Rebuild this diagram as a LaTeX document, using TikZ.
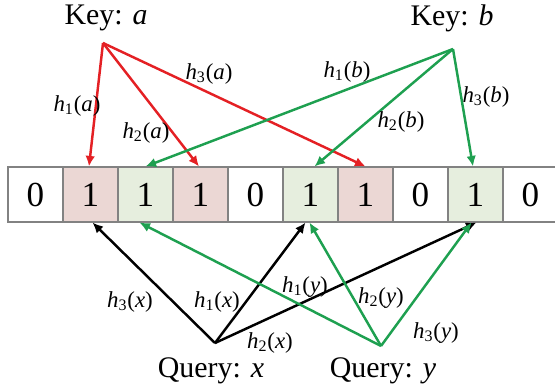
\documentclass[tikz,border=0pt]{standalone}
\usepackage{fontspec}
\setmainfont{Liberation Serif}
\usetikzlibrary{arrows.meta}
\definecolor{redline}{RGB}{228,32,36}
\definecolor{greenline}{RGB}{30,160,80}
\definecolor{redfill}{RGB}{235,215,212}
\definecolor{greenfill}{RGB}{230,238,222}
\definecolor{cellgray}{RGB}{130,130,130}
\newcommand{\hf}[2]{\textit{h}\textsubscript{#1}(\textit{#2})}
\tikzset{
  cell/.style={draw=cellgray, line width=0.6pt, minimum width=1.1cm, minimum height=1.1cm,
    inner sep=0pt, font=\fontsize{20}{22}\selectfont},
  rcell/.style={cell, fill=redfill},
  gcell/.style={cell, fill=greenfill},
  title/.style={font=\fontsize{17}{20}\selectfont},
  hlabel/.style={font=\fontsize{13}{15}\selectfont, inner sep=1pt},
  hashred/.style={draw=redline, line width=1.4pt, -{Latex[length=6pt,width=5.5pt]}},
  hashgreen/.style={draw=greenline, line width=1.4pt, -{Latex[length=6pt,width=5.5pt]}},
  hashblack/.style={draw=black, line width=1.4pt, -{Latex[length=6pt,width=5.5pt]}}
}
\begin{document}
\begin{tikzpicture}[scale=1.0]
\useasboundingbox (0,0) rectangle (11.1,7.82);
% bit array
\node[cell]  (c0) at (0.71,3.93) {0};
\node[rcell] (c1) at (1.81,3.93) {1};
\node[gcell] (c2) at (2.91,3.93) {1};
\node[rcell] (c3) at (4.01,3.93) {1};
\node[cell]  (c4) at (5.11,3.93) {0};
\node[gcell] (c5) at (6.21,3.93) {1};
\node[rcell] (c6) at (7.31,3.93) {1};
\node[cell]  (c7) at (8.41,3.93) {0};
\node[gcell] (c8) at (9.51,3.93) {1};
\node[cell]  (c9) at (10.61,3.93) {0};
% keys and queries
\node[title] (keya) at (2.12,7.46) {Key: \textit{a}};
\node[title] (keyb) at (9.04,7.46) {Key: \textit{b}};
\node[title] (qx) at (4.22,0.40) {Query: \textit{x}};
\node[title] (qy) at (7.66,0.40) {Query: \textit{y}};
\coordinate (ka) at (2.06,6.96);
\coordinate (kb) at (9.06,6.84);
\coordinate (sx) at (4.30,0.96);
\coordinate (sy) at (7.62,0.90);
% insert a
\draw[hashred] (ka) -- ([xshift=-0.03cm]c1.north);
\draw[hashred] (ka) -- ([xshift=-0.03cm]c3.north);
\draw[hashred] (ka) -- (c6.north);
% insert b
\draw[hashgreen] (kb) -- (c2.north);
\draw[hashgreen] (kb) -- ([xshift=0.08cm]c5.north);
\draw[hashgreen] (kb) -- ([xshift=-0.05cm]c8.north);
% query x
\draw[hashblack] (sx) -- ([xshift=0.04cm]c1.south);
\draw[hashblack] (sx) -- ([xshift=-0.1cm]c5.south);
\draw[hashblack] (sx) -- ([xshift=0.02cm]c8.south);
% query y
\draw[hashgreen] (sy) -- ([xshift=-0.12cm]c2.south);
\draw[hashgreen] (sy) -- ([xshift=-0.02cm]c5.south);
\draw[hashgreen] (sy) -- ([xshift=-0.08cm]c8.south);
% hash labels
\node[hlabel] (la1) at (1.54,5.70) {\hf{1}{a}};
\node[hlabel] (la2) at (2.92,5.16) {\hf{2}{a}};
\node[hlabel] (la3) at (4.18,6.34) {\hf{3}{a}};
\node[hlabel] (lb1) at (6.94,6.38) {\hf{1}{b}};
\node[hlabel] (lb2) at (8.02,5.38) {\hf{2}{b}};
\node[hlabel] (lb3) at (9.72,5.88) {\hf{3}{b}};
\node[hlabel] (lx3) at (2.60,1.78) {\hf{3}{x}};
\node[hlabel] (lx1) at (4.34,1.78) {\hf{1}{x}};
\node[hlabel] (lx2) at (5.40,0.96) {\hf{2}{x}};
\node[hlabel] (ly1) at (6.10,2.08) {\hf{1}{y}};
\node[hlabel] (ly2) at (7.62,1.86) {\hf{2}{y}};
\node[hlabel] (ly3) at (8.72,1.16) {\hf{3}{y}};
\end{tikzpicture}
\end{document}
